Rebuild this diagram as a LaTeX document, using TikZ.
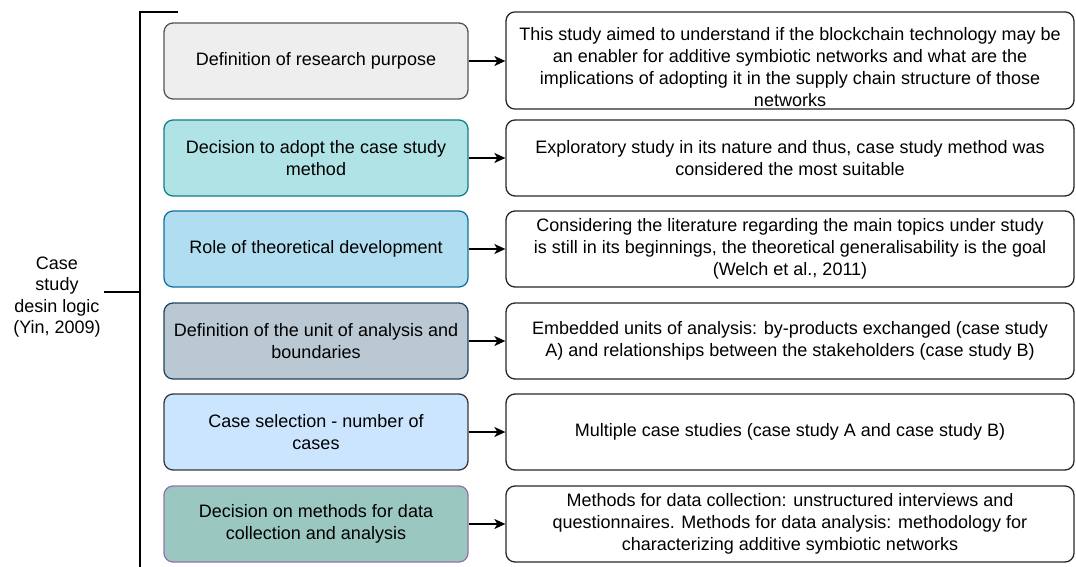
\documentclass[tikz,border=0pt]{standalone}
\usepackage{fontspec}
\setmainfont{Liberation Sans}
\usetikzlibrary{arrows.meta}
\definecolor{purposefill}{HTML}{EEEEEE}
\definecolor{purposeline}{HTML}{555555}
\definecolor{methodfill}{HTML}{B0E3E6}
\definecolor{methodline}{HTML}{0E8088}
\definecolor{theoryfill}{HTML}{B1DDF0}
\definecolor{theoryline}{HTML}{10739E}
\definecolor{unitfill}{HTML}{BAC8D3}
\definecolor{unitline}{HTML}{23445D}
\definecolor{casesfill}{HTML}{CCE5FF}
\definecolor{casesline}{HTML}{36393D}
\definecolor{datafill}{HTML}{9AC7BF}
\definecolor{dataline}{HTML}{9673A6}
\tikzset{
  stage/.style={draw, line width=1.3pt, rounded corners=9pt, align=center,
    minimum width=304pt, minimum height=76pt, inner sep=2pt,
    font=\fontsize{18}{22}\selectfont},
  detail/.style={draw=black!85, line width=1.3pt, rounded corners=9pt, align=center,
    minimum width=568pt, minimum height=76pt, inner sep=2pt,
    font=\fontsize{18}{22}\selectfont},
  link/.style={line width=1.5pt, -{Stealth[length=11pt,width=10pt,inset=3pt]}},
  bracket/.style={line width=2.4pt}
}
\begin{document}
\begin{tikzpicture}[x=1pt,y=-1pt]
    \useasboundingbox (0,0) rectangle (1076,567);
    % Left column: design steps
    \node[stage, fill=purposefill, draw=purposeline] (purpose) at (316,61) {Definition of research purpose};
    \node[stage, fill=methodfill, draw=methodline] (method) at (316,158) {Decision to adopt the case study\\method};
    \node[stage, fill=theoryfill, draw=theoryline] (theory) at (316,249) {Role of theoretical development};
    \node[stage, fill=unitfill, draw=unitline] (unit) at (316,341) {Definition of the unit of analysis and\\boundaries};
    \node[stage, fill=casesfill, draw=casesline] (cases) at (316,432) {Case selection - number of\\cases};
    \node[stage, fill=datafill, draw=dataline] (data) at (316,524) {Decision on methods for data\\collection and analysis};
    % Right column: choices made
    \node[detail, minimum height=93pt] (purposetxt) at (790,60.5) {\rule{0pt}{27pt}This study aimed to understand if the blockchain technology may be\\an enabler for additive symbiotic networks and what are the\\implications of adopting it in the supply chain structure of those\\networks};
    \node[detail] (methodtxt) at (790,158) {Exploratory study in its nature and thus, case study method was\\considered the most suitable};
    \node[detail] (theorytxt) at (790,249) {Considering the literature regarding the main topics under study\\is still in its beginnings, the theoretical generalisability is the goal\\(Welch et al., 2011)};
    \node[detail] (unittxt) at (790,341) {Embedded units of analysis: by-products exchanged (case study\\A) and relationships between the stakeholders (case study B)};
    \node[detail] (casestxt) at (790,432) {Multiple case studies (case study A and case study B)};
    \node[detail] (datatxt) at (790,524) {Methods for data collection: unstructured interviews and\\questionnaires. Methods for data analysis: methodology for\\characterizing additive symbiotic networks};
    % Arrows
    \draw[link] (purpose) -- (purposetxt.west |- purpose);
    \draw[link] (method) -- (methodtxt);
    \draw[link] (theory) -- (theorytxt);
    \draw[link] (unit) -- (unittxt);
    \draw[link] (cases) -- (casestxt);
    \draw[link] (data) -- (datatxt);
    % Bracket and label
    \node[align=center, font=\fontsize{18}{21.5}\selectfont, inner sep=0pt] (logic) at (57,297) {Case\\study\\desin logic\\(Yin, 2009)};
    \coordinate (brtop) at (140,12);
    \coordinate (brend) at (178,12);
    \coordinate (brbot) at (140,570);
    \coordinate (brmid) at (140,292);
    \draw[bracket] (brend) -- (brtop) -- (brbot);
    \draw[bracket] ([xshift=3pt]brmid -| logic.east) -- (brmid);
\end{tikzpicture}
\end{document}
